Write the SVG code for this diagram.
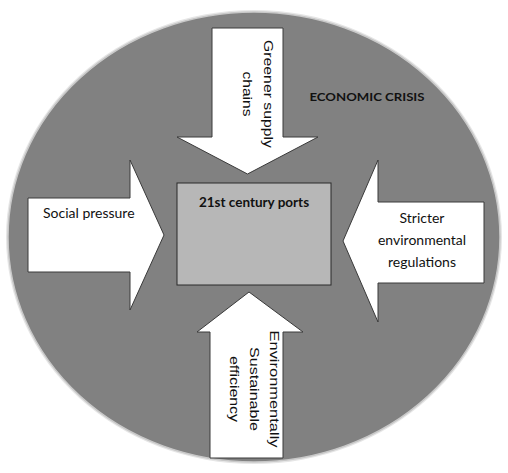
<svg xmlns="http://www.w3.org/2000/svg" width="508" height="473" viewBox="0 0 508 473">
<style>
.arrow{fill:#ffffff;stroke:#3a3a3a;stroke-width:1;stroke-linejoin:miter}
.lbl{font-family:Lato,"Liberation Sans",sans-serif;font-size:14px;fill:#111}
.rot{font-family:"Liberation Sans",Arial,sans-serif;font-size:13.5px;fill:#111}
.bold{font-family:Lato,"Liberation Sans",sans-serif;font-weight:bold;fill:#111}
</style>
<rect width="508" height="473" fill="#ffffff"/>
<g id="background">
<ellipse cx="254" cy="237" rx="248" ry="227" fill="#e6e6e6"/>
<ellipse cx="254" cy="237" rx="246" ry="225" fill="#818181" stroke="#c8c8c8" stroke-width="1.5"/>
<text class="bold" x="367" y="101" font-size="12" text-anchor="middle" textLength="115" lengthAdjust="spacingAndGlyphs">ECONOMIC CRISIS</text>
</g>
<g id="connectors">
<g id="arrow-top">
<polygon class="arrow" points="212,28 283,28 283,137 318,137 247.5,174 177,137 212,137"/>
<text class="rot" transform="translate(264,94) rotate(90)" text-anchor="middle"><tspan x="0" y="0" textLength="108" lengthAdjust="spacingAndGlyphs">Greener supply</tspan><tspan x="0" y="21" textLength="45" lengthAdjust="spacingAndGlyphs">chains</tspan></text>
</g>
<g id="arrow-left">
<polygon class="arrow" points="28,198 130,198 130,160 164,235 130,310 130,272 28,272"/>
<text class="lbl" x="43" y="218">Social pressure</text>
</g>
<g id="arrow-right">
<polygon class="arrow" points="484,202 378,202 378,160 343,241 378,322 378,283 484,283"/>
<text class="lbl" x="422" text-anchor="middle"><tspan x="422" y="223">Stricter</tspan><tspan x="422" y="245">environmental</tspan><tspan x="422" y="267">regulations</tspan></text>
</g>
<g id="arrow-bottom">
<polygon class="arrow" points="210,458 283,458 283,332 303,332 249,292 197,332 210,332"/>
<text class="rot" transform="translate(270,389) rotate(90)" text-anchor="middle"><tspan x="0" y="0" textLength="117" lengthAdjust="spacingAndGlyphs">Environmentally</tspan><tspan x="0" y="20" textLength="84" lengthAdjust="spacingAndGlyphs">Sustainable</tspan><tspan x="0" y="40" textLength="66" lengthAdjust="spacingAndGlyphs">efficiency</tspan></text>
</g>
</g>
<g id="node-ports">
<rect x="177" y="183" width="154" height="102" fill="#b7b7b7" stroke="#2a2a2a" stroke-width="1"/>
<text class="bold" x="254" y="207" font-size="13.5" text-anchor="middle">21st century ports</text>
</g>
</svg>
